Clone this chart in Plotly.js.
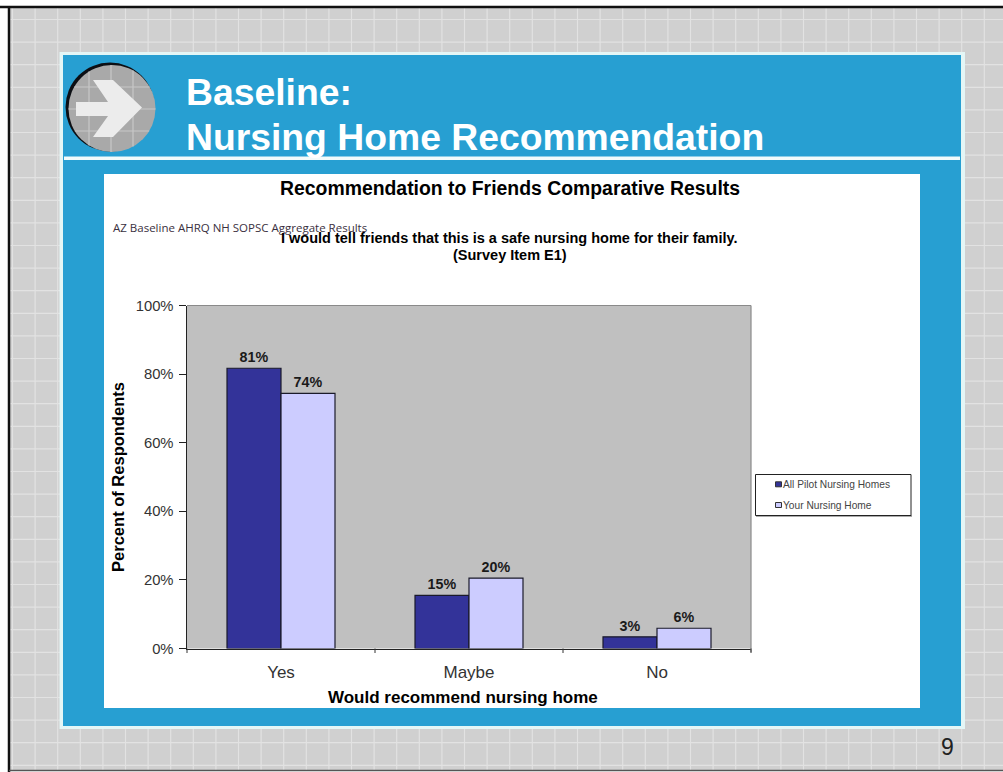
<!DOCTYPE html>
<html><head><meta charset="utf-8">
<script src="https://cdn.plot.ly/plotly-3.0.1.min.js"></script>
<style>html,body{margin:0;padding:0;background:#fff;overflow:hidden}#c{width:1003px;height:772px}</style>
</head><body><div id="c"></div>
<script>
const categories = ["Yes", "Maybe", "No"];
const seriesNames = ["All Pilot Nursing Homes", "Your Nursing Home"];
const allPilotHomes = [81.7, 15.5, 3.4];
const yourHome = [74.4, 20.5, 5.9];
const allPilotLabels = ["81%", "15%", "3%"];
const yourHomeLabels = ["74%", "20%", "6%"];
const yTicks = [0, 20, 40, 60, 80, 100];
const yTickLabels = ["0%", "20%", "40%", "60%", "80%", "100%"];
const seriesColors = ["#333399", "#ccccff"];

const W = 1003, H = 772;
const px = x => x / W, py = y => 1 - y / H;
const rect = (x0, y0, x1, y1, fill, lineColor, lw, layer) => ({
  type: "rect", xref: "paper", yref: "paper", x0: px(x0), x1: px(x1), y0: py(y0), y1: py(y1),
  fillcolor: fill, line: {color: lineColor || fill, width: lineColor ? (lw || 1) : 0}, layer: layer || "below"
});
const seg = (x0, y0, x1, y1, color, w, layer) => ({
  type: "line", xref: "paper", yref: "paper", x0: px(x0), x1: px(x1), y0: py(y0), y1: py(y1),
  line: {color: color, width: w}, layer: layer || "below"
});
const path = (d, fill, layer) => ({
  type: "path", xref: "paper", yref: "paper",
  path: d.map((p, i) => (i ? "L" : "M") + px(p[0]) + "," + py(p[1])).join(" ") + " Z",
  fillcolor: fill, line: {width: 0}, layer: layer || "below"
});
const circle = (cx, cy, r, fill) => ({
  type: "circle", xref: "paper", yref: "paper", x0: px(cx - r), x1: px(cx + r), y0: py(cy + r), y1: py(cy - r),
  fillcolor: fill, line: {width: 0}, layer: "below"
});

const shapes = [];
// slide backdrop
shapes.push(rect(9, 7, 1003, 771, "#d0d0d0"));
for (let x = 12.5; x < 1003; x += 22.6) shapes.push(seg(x, 8, x, 770, "#e2e2e2", 1.2));
for (let y = 19.5; y < 770; y += 22.6) shapes.push(seg(10, y, 1003, y, "#e2e2e2", 1.2));
shapes.push(seg(0, 7, 1003, 7, "#111111", 2.5));
shapes.push(seg(9, 6, 9, 772, "#111111", 2.5));
shapes.push(seg(9, 770.5, 1003, 770.5, "#555555", 1.5));
// blue slide panel
shapes.push(rect(59.5, 52, 965, 729, "#e4f6f6"));
shapes.push(rect(63, 55, 961, 726, "#279fd2"));
shapes.push(rect(64, 156.5, 960, 160, "#f2fbfb"));
// round arrow icon
const iconX = 112, iconY = 108.5, iconR = 43.5;
shapes.push(circle(110, 107, 44.5, "#0c0f14"));
shapes.push(circle(iconX, iconY, iconR, "#a9a9a9"));
[89, 111, 133].forEach(x => {
  const d = Math.sqrt(iconR * iconR - (x - iconX) * (x - iconX));
  shapes.push(seg(x, iconY - d, x, iconY + d, "#c8c8c8", 1.2));
});
[87, 109, 131].forEach(y => {
  const d = Math.sqrt(iconR * iconR - (y - iconY) * (y - iconY));
  shapes.push(seg(iconX - d, y, iconX + d, y, "#c8c8c8", 1.2));
});
shapes.push(path([[76,102],[108,102],[93,80],[113,80],[142,107.5],[113,137],[93,137],[108,116],[76,116]], "#ececec"));
// chart panel and plot background
shapes.push(rect(104, 174, 920, 708, "#ffffff"));
shapes.push(rect(187, 305.5, 751, 648.5, "#c0c0c0"));
// right and top plot edges
shapes.push(seg(751, 305.5, 751, 652, "#8a8a8a", 1.2, "above"));
shapes.push(seg(187, 305.5, 751, 305.5, "#8a8a8a", 1, "above"));
// category-boundary tick marks on the x axis
[187, 375, 563, 751].forEach(x => shapes.push(seg(x, 648.5, x, 653, "#333", 1, "above")));
// legend box and swatches
shapes.push(seg(756, 516, 912, 516, "#8f8f8f", 1.5, "above"));
shapes.push(rect(755.5, 474.5, 911, 515.5, "#ffffff", "#222222", 1, "above"));
[484.3, 505].forEach((y, i) => shapes.push(rect(775.5, y - 2.5, 781.5, y + 2.5, seriesColors[i], "#333", 1, "above")));

const note = (text, x, y, size, opts) => {
  const o = opts || {};
  return {
    text: text, xref: "paper", yref: "paper", x: px(x), y: py(y), showarrow: false,
    xanchor: o.xanchor || "center", yanchor: "middle", textangle: o.textangle || 0,
    font: Object.assign({family: "Liberation Sans, Arial, sans-serif", size: size, color: "#000"}, o.font || {})
  };
};

const annotations = [
  note("<b>Baseline:</b>", 184, 92.5, 37.3, {xanchor: "left", font: {color: "#ffffff"}}),
  note("<b>Nursing Home Recommendation</b>", 184, 137.5, 37.3, {xanchor: "left", font: {color: "#ffffff"}}),
  note("<b>Recommendation to Friends Comparative Results</b>", 509.5, 188.5, 19.4),
  note("AZ Baseline AHRQ NH SOPSC Aggregate Results", 111, 228, 11.5, {xanchor: "left", font: {family: "Open Sans, Liberation Sans, sans-serif", color: "#3a3040"}}),
  note("<b>I would tell friends that this is a safe nursing home for their family.</b>", 509.5, 238, 14.5),
  note("<b>(Survey Item E1)</b>", 509.5, 255, 14.5),
  note("9", 947, 747, 23, {font: {color: "#222"}}),
  note(seriesNames[0], 781, 484.5, 10.2, {xanchor: "left", font: {color: "#444"}}),
  note(seriesNames[1], 781, 505.5, 10.2, {xanchor: "left", font: {color: "#444"}}),
  note("<b>Would recommend nursing home</b>", 463, 697, 17)
];

const barStyle = fill => ({color: fill, line: {color: "#1a1a2a", width: 1.2}});
const labelFont = {family: "Liberation Sans, Arial, sans-serif", size: 14.3, color: "#1a1a1a", weight: 700};
const traces = [
  {type: "bar", name: seriesNames[0], x: categories, y: allPilotHomes, text: allPilotLabels,
   textposition: "outside", cliponaxis: false, textfont: labelFont, marker: barStyle(seriesColors[0])},
  {type: "bar", name: seriesNames[1], x: categories, y: yourHome, text: yourHomeLabels,
   textposition: "outside", cliponaxis: false, textfont: labelFont, marker: barStyle(seriesColors[1])}
];

const layout = {
  width: W, height: H, margin: {l: 0, r: 0, t: 0, b: 0}, autosize: false,
  paper_bgcolor: "#ffffff", plot_bgcolor: "rgba(0,0,0,0)",
  barmode: "group", bargap: 0.4255, bargroupgap: 0, showlegend: false,
  font: {family: "Liberation Sans, Arial, sans-serif"},
  xaxis: {
    domain: [px(187), px(751)], type: "category", range: [-0.5, 2.5], fixedrange: true,
    showline: true, linecolor: "#222", linewidth: 1.2, showgrid: false, zeroline: false,
    ticks: "", tickfont: {size: 17, color: "#333"}, ticklabelstandoff: 8
  },
  yaxis: {
    domain: [py(648.5), py(305.5)], range: [0, 100], fixedrange: true,
    tickvals: yTicks, ticktext: yTickLabels,
    showline: true, linecolor: "#222", linewidth: 1.5, showgrid: false, zeroline: false,
    ticks: "outside", ticklen: 7, tickcolor: "#222", tickfont: {size: 14.8, color: "#333"}, ticklabelstandoff: 2,
    title: {text: "<b>Percent of Respondents</b>", standoff: 7, font: {size: 16.5, color: "#000"}}
  },
  shapes: shapes, annotations: annotations
};

Plotly.newPlot("c", traces, layout, {displayModeBar: false, staticPlot: true});
</script></body></html>
